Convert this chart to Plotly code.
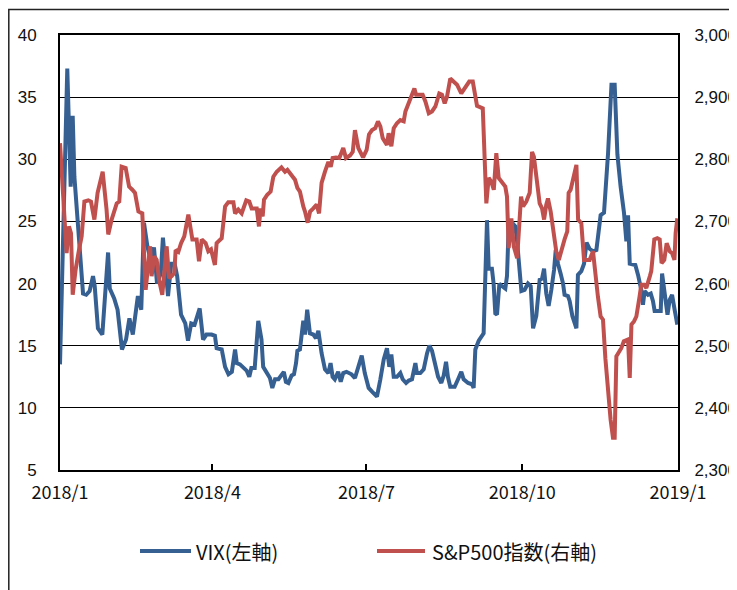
import pandas as pd
import plotly.graph_objects as go

# ---- data (day offsets from 2018-01-01 on the chart's date axis) ----
vix_days = [0, 4.3, 6.3, 7.5, 8.5, 10.5, 13.6, 15.5, 17.5, 19.5, 20.5, 22.4, 25, 28.4, 29.4, 32, 34, 36.6, 39, 41,
            43, 46, 48, 49.6, 51.6, 53.5, 55.5, 57.3, 59.5, 60.8, 62.2, 63.8, 65.7, 67.7, 69.2, 71.5, 74, 75.6, 77.5,
            79.5, 82.5, 84.5, 86.5, 89.5, 91.5, 92.5, 95.5, 97.5, 99.5, 101.5, 103.4, 104.4, 106.3, 108.3, 110.2,
            111.8, 113, 115, 117.1, 118, 119, 120, 122, 124, 125.4, 127, 129, 130.8, 132.2, 133.4, 134.9, 136.8,
            138.2, 139.4, 140.2, 141.7, 142.7, 143.7, 144.7, 146, 147.6, 149.6, 151.2, 152.6, 154.5, 156.5, 158.5,
            159.8, 161, 162.3, 164.3, 165.8, 167.3, 169.2, 172.2, 174.2, 176.2, 178.2, 180, 182.3, 184.3, 187.2,
            189.2, 191.2, 193.1, 194.5, 195.7, 197.1, 199, 201, 202.4, 204.4, 206, 207.9, 209.9, 210.8, 212.8, 214.8,
            216.8, 218.2, 219.7, 221.7, 223.3, 225.2, 226.6, 228, 229.1, 230.5, 233.1, 235.1, 237, 238.4, 241, 243.3,
            244.3, 245.3, 247.3, 250.2, 251.2, 252.2, 253.2, 255.1, 256.1, 257.1, 258.1, 259.5, 261, 263, 264, 265,
            267, 268.9, 269.9, 271, 272.5, 274.4, 276.4, 278, 279.4, 281.3, 283.3, 284.7, 285.9, 287.2, 288.6, 290.2,
            291.8, 292.8, 294.1, 295.7, 297.1, 298, 300, 301, 302.6, 305, 305.9, 307.9, 309.5, 311, 312.8, 314.8,
            316.8, 319.3, 321.3, 323.7, 325.7, 327.6, 329.2, 331.1, 333.1, 334.5, 335.5, 336.5, 338.4, 339.8, 341.4,
            343.3, 344.3, 345.3, 347.3, 348.9, 350.2, 351.2, 353.2, 354.8, 355.6, 357.1, 358.8, 360.1, 361.5, 363,
            364.6]
vix_values = [13.5, 37.3, 27.8, 33.5, 28.6, 25.1, 19.2, 19.1, 19.4, 20.6, 19.8, 16.4, 15.9, 22.5, 19.6, 18.8, 17.9,
              14.7, 15.5, 17.2, 15.9, 19.0, 17.9, 24.9, 23.0, 21.9, 22.9, 20.0, 20.8, 23.7, 21.1, 19.0, 21.6, 21.6,
              20.6, 17.5, 16.8, 15.4, 16.8, 16.7, 18.0, 15.5, 15.9, 15.9, 15.8, 14.8, 14.7, 13.3, 12.7, 12.9, 14.7,
              13.6, 13.5, 13.2, 13.0, 12.5, 13.2, 13.2, 17.0, 16.3, 15.5, 13.3, 12.9, 12.4, 11.6, 12.3, 12.3, 12.6,
              12.9, 12.1, 12.0, 12.6, 12.7, 13.6, 14.6, 14.7, 16.3, 17.0, 15.9, 17.9, 16.0, 15.9, 15.6, 16.2, 14.4,
              13.1, 12.8, 13.6, 12.5, 12.3, 12.9, 12.1, 12.8, 12.9, 12.7, 12.4, 13.3, 14.2, 12.8, 11.6, 11.3, 10.9,
              12.3, 13.9, 14.8, 13.3, 14.3, 12.5, 12.5, 12.8, 12.3, 12.0, 12.2, 12.3, 13.6, 12.8, 12.8, 13.1, 14.4,
              15.0, 14.6, 13.6, 12.5, 12.0, 12.6, 13.7, 12.5, 11.7, 11.7, 12.3, 12.9, 12.3, 12.0, 11.9, 11.6, 14.7,
              15.4, 16.0, 21.1, 25.1, 21.2, 21.2, 20.0, 17.6, 17.5, 20.0, 19.8, 19.6, 20.6, 24.6, 24.9, 24.6, 23.5,
              21.5, 19.4, 19.5, 20.0, 19.8, 16.4, 17.4, 20.3, 20.4, 21.2, 19.2, 18.2, 19.5, 21.1, 22.7, 21.6, 20.8,
              20.0, 19.1, 19.0, 18.6, 17.4, 16.4, 20.7, 21.0, 21.6, 23.3, 22.8, 22.6, 22.7, 25.5, 25.7, 30.5, 36.0,
              36.0, 30.4, 27.8, 25.7, 23.4, 25.5, 21.6, 21.5, 21.5, 20.7, 19.5, 18.3, 19.4, 19.1, 19.2, 18.6, 17.8,
              17.8, 17.8, 20.8, 19.0, 17.5, 18.7, 19.1, 17.9, 16.7]

spx_days = [0, 3, 3.9, 5.3, 6.5, 7.5, 9.2, 11.2, 12.8, 14.4, 16.7, 18.3, 20.3, 22.2, 25.2, 27.5, 28.5, 30.5, 33.5, 35,
            36.4, 38.8, 40.8, 42.7, 44.3, 46.3, 48.6, 50.6, 53.2, 54.1, 55.7, 57.1, 58.5, 60.4, 63, 64.4, 66, 67.5,
            68.3, 69.9, 71.5, 73.4, 75.8, 78.2, 80.7, 82.1, 83.7, 86, 87.6, 89.2, 91.5, 92.5, 95.5, 97.5, 99.4, 102.4,
            103.4, 105.3, 107.3, 110, 111.8, 113.2, 116.2, 117.5, 118.5, 119.7, 120.5, 122.4, 124.4, 126, 128, 130.8,
            132.9, 134.3, 136.8, 138.8, 140.2, 141.7, 143.7, 144.7, 146.3, 147.7, 149.6, 151.6, 153, 154.5, 156.5,
            158.5, 159.9, 161, 163, 165, 167.3, 168.9, 171.3, 172.9, 174.2, 176.2, 179, 181.1, 182.5, 184.3, 186.2,
            187.8, 189.2, 190.6, 193.1, 194.1, 195.7, 197.1, 199, 201, 203, 204, 205.9, 207.9, 209.3, 210.3, 214.2,
            215.8, 217.8, 219.7, 221.7, 224, 225.6, 227.2, 228.6, 230.5, 232.5, 234.5, 237, 239.4, 241.7, 243.8,
            245.3, 246.3, 249.7, 250.8, 251.8, 253.2, 254.7, 256.2, 257.1, 257.7, 259.1, 261, 263, 264, 265, 266.6,
            268, 270, 271.5, 272.3, 273.5, 275.4, 277.4, 278.8, 279.9, 281.3, 283.3, 284.7, 285.9, 287.2, 288.2,
            289.8, 291.8, 293.1, 294.6, 296.1, 298, 299.6, 300.4, 301.6, 303, 305, 306, 307.9, 309.5, 312.8, 314.8,
            316.2, 317.7, 319.3, 320.7, 322.1, 323.7, 325.2, 326.6, 327.6, 328.6, 330.2, 331.5, 333, 335.5, 336.5,
            337.5, 339, 340.4, 342.3, 343.3, 344.9, 346.3, 348.4, 349.2, 351, 352.8, 354.2, 355.3, 356.9, 358.3,
            360.1, 361.5, 362.9, 363.6, 364.6]
spx_values = [2826, 2703, 2649, 2692, 2681, 2582, 2622, 2654, 2676, 2732, 2734, 2732, 2703, 2746, 2780, 2719, 2679,
              2703, 2729, 2732, 2788, 2786, 2756, 2751, 2746, 2716, 2713, 2590, 2660, 2612, 2644, 2638, 2606, 2582,
              2660, 2609, 2612, 2617, 2654, 2651, 2665, 2676, 2711, 2671, 2671, 2636, 2671, 2665, 2652, 2655, 2630,
              2665, 2673, 2724, 2731, 2731, 2713, 2719, 2713, 2734, 2732, 2721, 2721, 2692, 2721, 2708, 2735, 2743,
              2748, 2772, 2780, 2787, 2780, 2783, 2775, 2767, 2754, 2748, 2724, 2716, 2698, 2716, 2721, 2727, 2713,
              2762, 2780, 2796, 2788, 2802, 2803, 2802, 2818, 2802, 2806, 2812, 2847, 2818, 2803, 2815, 2840, 2847,
              2850, 2861, 2853, 2834, 2823, 2842, 2821, 2850, 2858, 2863, 2861, 2877, 2890, 2904, 2914, 2904, 2904,
              2893, 2874, 2877, 2885, 2906, 2904, 2890, 2901, 2930, 2925, 2920, 2906, 2916, 2925, 2925, 2896, 2886,
              2882, 2783, 2729, 2770, 2764, 2751, 2794, 2810, 2770, 2764, 2756, 2740, 2657, 2705, 2660, 2641, 2703,
              2740, 2724, 2732, 2746, 2812, 2804, 2772, 2729, 2721, 2703, 2727, 2737, 2716, 2676, 2652, 2638, 2654,
              2671, 2684, 2746, 2751, 2767, 2791, 2703, 2697, 2638, 2638, 2652, 2612, 2579, 2547, 2542, 2480, 2419,
              2381, 2352, 2352, 2483, 2491, 2496, 2507, 2510, 2448, 2534, 2539, 2547, 2579, 2598, 2598, 2593, 2612,
              2620, 2671, 2673, 2671, 2633, 2638, 2665, 2652, 2649, 2638, 2681, 2705]

tick_dates = ["2018-01-01", "2018-04-01", "2018-07-01", "2018-10-01", "2019-01-01"]
tick_labels = ["2018/1", "2018/4", "2018/7", "2018/10", "2019/1"]
vix_name = "VIX(左軸)"
spx_name = "S&P500指数(右軸)"

BLUE = "#376092"
RED = "#C0504D"

base = pd.Timestamp("2018-01-01")


def to_dates(days):
    return [base + pd.Timedelta(days=d) for d in days]


fig = go.Figure()
fig.add_trace(go.Scatter(x=to_dates(vix_days), y=vix_values, mode="lines", name=vix_name,
                         line=dict(color=BLUE, width=4), yaxis="y"))
fig.add_trace(go.Scatter(x=to_dates(spx_days), y=spx_values, mode="lines", name=spx_name,
                         line=dict(color=RED, width=4), yaxis="y2"))

# the page places the figure 8px from the top-left corner of the window
OFF = 8
W, H = 737 - OFF, 590 - OFF
L, R, T, B = 60 - OFF, 737 - 678, 35 - OFF, 590 - 470
pw, ph = W - L - R, H - T - B


def px(sx):
    return (sx - OFF - L) / pw


def py(sy):
    return (H - B - (sy - OFF)) / ph


shapes = [
    # outer frame
    dict(type="rect", xref="paper", yref="paper", x0=px(8.8), x1=px(760), y0=py(620), y1=py(9.5),
         line=dict(color="#222222", width=1.5), fillcolor="rgba(0,0,0,0)", layer="below"),
    # legend samples
    dict(type="line", xref="paper", yref="paper", x0=px(140), x1=px(191), y0=py(551), y1=py(551),
         line=dict(color=BLUE, width=4)),
    dict(type="line", xref="paper", yref="paper", x0=px(377), x1=px(425), y0=py(551), y1=py(551),
         line=dict(color=RED, width=4)),
]
annotations = [
    dict(xref="paper", yref="paper", x=px(194), y=py(551), text=vix_name, showarrow=False,
         xanchor="left", yanchor="middle", font=dict(family="Noto Sans CJK JP", size=20, color="#111")),
    dict(xref="paper", yref="paper", x=px(430), y=py(551), text=spx_name, showarrow=False,
         xanchor="left", yanchor="middle", font=dict(family="Noto Sans CJK JP", size=20, color="#111")),
]

fig.update_layout(
    width=W, height=H,
    margin=dict(l=L, r=R, t=T, b=B, autoexpand=False),
    paper_bgcolor="white", plot_bgcolor="white",
    showlegend=False,
    shapes=shapes, annotations=annotations,
    xaxis=dict(type="date", range=["2018-01-01", "2019-01-01"], tickvals=tick_dates, ticktext=tick_labels,
               ticks="inside", ticklen=6, tickwidth=1.5, tickcolor="black", automargin=False,
               showline=True, linecolor="black", linewidth=2, mirror=True, showgrid=False, zeroline=False,
               tickfont=dict(family="Noto Sans CJK JP", size=18, color="#111"), ticklabelstandoff=5),
    yaxis=dict(range=[5, 40], tick0=5, dtick=5, showgrid=True, gridcolor="black", gridwidth=1.2,
               showline=True, linecolor="black", linewidth=2, zeroline=False, ticks="", automargin=False,
               tickfont=dict(family="Liberation Sans, Arial", size=17, color="#111"), ticklabelstandoff=18),
    yaxis2=dict(range=[2300, 3000], tick0=2300, dtick=100, tickformat=",", overlaying="y", side="right",
                showgrid=False, showline=True, linecolor="black", linewidth=2, zeroline=False, ticks="",
                automargin=False,
                tickfont=dict(family="Liberation Sans, Arial", size=17, color="#111"), ticklabelstandoff=11),
)

fig.write_html("out.html")
